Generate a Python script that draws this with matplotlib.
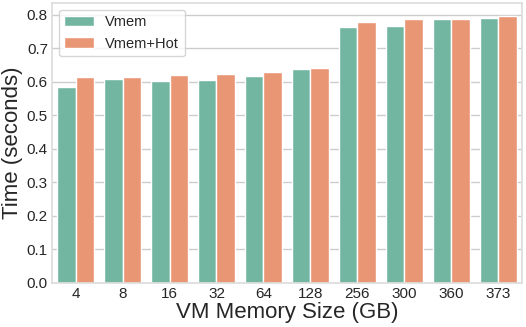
import pandas as pd
import seaborn as sns
import matplotlib
matplotlib.use('Agg')
import matplotlib.pyplot as plt

sizes = ['4', '8', '16', '32', '64', '128', '256', '300', '360', '373']
vmem = [0.585, 0.610, 0.603, 0.605, 0.619, 0.640, 0.764, 0.767, 0.789, 0.790]
vmem_hot = [0.616, 0.614, 0.621, 0.625, 0.629, 0.641, 0.779, 0.789, 0.789, 0.796]
series = ['Vmem', 'Vmem+Hot']

df = pd.DataFrame({
    'size': sizes * 2,
    'time': vmem + vmem_hot,
    'type': [series[0]] * len(sizes) + [series[1]] * len(sizes),
})

sns.set_theme(style='whitegrid')
plt.rcParams['font.family'] = ['Liberation Sans', 'DejaVu Sans']

fig, ax = plt.subplots(figsize=(5.26, 3.27), dpi=100)
fig.subplots_adjust(left=0.099, right=0.992, bottom=0.135, top=0.991)

sns.barplot(data=df, x='size', y='time', hue='type', palette='Set2',
            edgecolor='white', linewidth=1, ax=ax)

ax.set_xlabel('VM Memory Size (GB)', fontsize=16, labelpad=1)
ax.set_ylabel('Time (seconds)', fontsize=16, labelpad=3)
ax.tick_params(axis='both', labelsize=11, length=0, pad=3)
ax.set_yticks([0.0, 0.1, 0.2, 0.3, 0.4, 0.5, 0.6, 0.7, 0.8])
ax.set_ylim(0, 0.836)
for s in ax.spines.values():
    s.set_color('#dddddd')
ax.legend(title=None, loc='upper left', fontsize=10.5, frameon=True,
          handlelength=2.0, handletextpad=0.8, borderpad=0.4,
          borderaxespad=0.45)

fig.savefig('out.png', dpi=100)
